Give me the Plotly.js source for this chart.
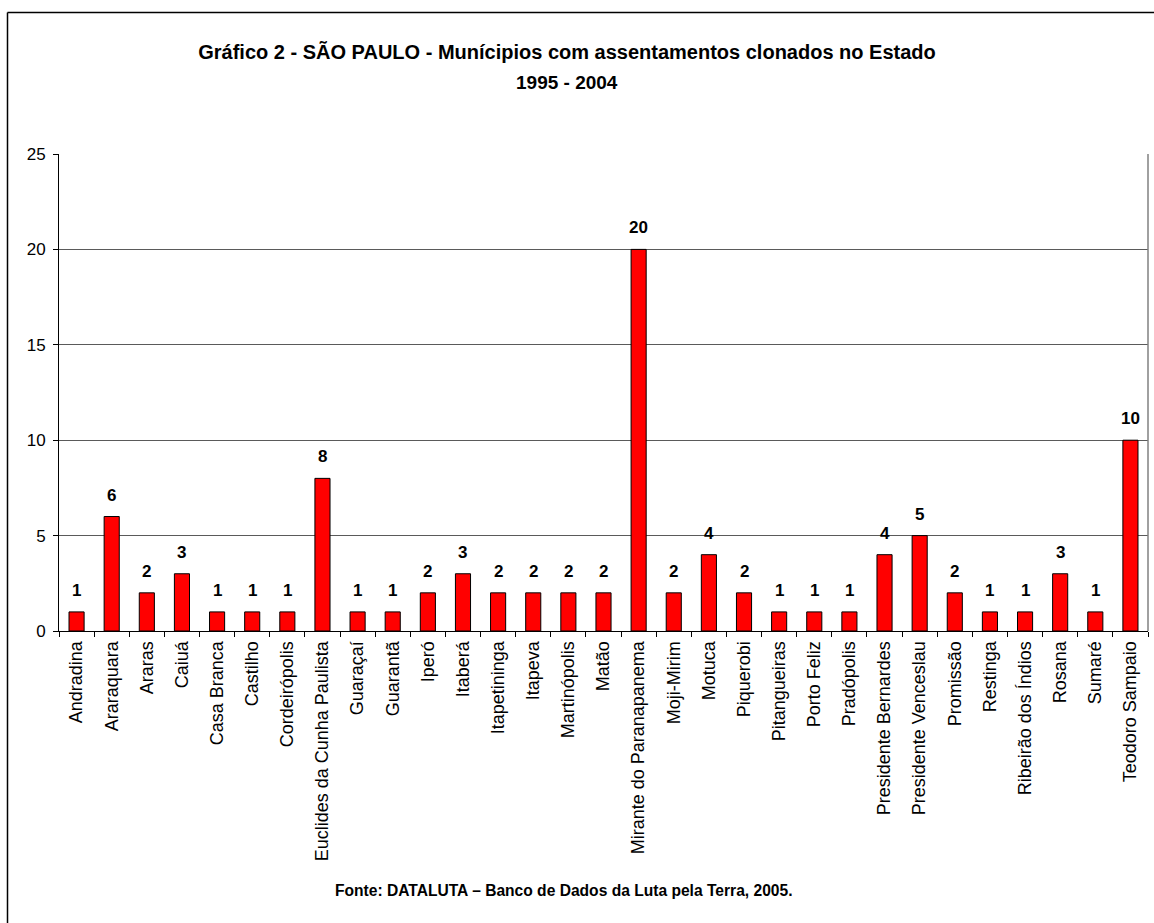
<!DOCTYPE html>
<html>
<head>
<meta charset="utf-8">
<script src="https://cdn.plot.ly/plotly-3.0.1.min.js"></script>
<style>
html,body{margin:0;padding:0;background:#fff;}
#chart{width:1154px;height:923px;}
</style>
</head>
<body>
<div id="chart"></div>
<script>
const municipios = [
  "Andradina","Araraquara","Araras","Caiuá","Casa Branca","Castilho","Cordeirópolis",
  "Euclides da Cunha Paulista","Guaraçaí","Guarantã","Iperó","Itaberá","Itapetininga",
  "Itapeva","Martinópolis","Matão","Mirante do Paranapanema","Moji-Mirim","Motuca",
  "Piquerobi","Pitangueiras","Porto Feliz","Pradópolis","Presidente Bernardes",
  "Presidente Venceslau","Promissão","Restinga","Ribeirão dos Índios","Rosana","Sumaré",
  "Teodoro Sampaio"
];
const assentamentos = [1,6,2,3,1,1,1,8,1,1,2,3,2,2,2,2,20,2,4,2,1,1,1,4,5,2,1,1,3,1,10];
const yTicks = [0,5,10,15,20,25];
const titleLine1 = "Gráfico 2 - SÃO PAULO - Munícipios com assentamentos clonados no Estado";
const titleLine2 = "1995 - 2004";
const fonte = "Fonte: DATALUTA – Banco de Dados da Luta pela Terra, 2005.";

const FONT = "Liberation Sans, Arial, sans-serif";

const trace = {
  type: "bar",
  x: municipios,
  y: assentamentos,
  marker: {color: "#FF0000", line: {color: "#000000", width: 1}},
  hoverinfo: "x+y"
};

const labelAnnotations = municipios.map((m, i) => ({
  x: m, y: assentamentos[i], xref: "x", yref: "y",
  text: "<b>" + assentamentos[i] + "</b>",
  showarrow: false, yanchor: "bottom", yshift: 10,
  font: {family: FONT, size: 17, color: "#000"}
}));

const layout = {
  width: 1154, height: 923,
  margin: {l: 59, r: 6, t: 154, b: 292},
  paper_bgcolor: "#ffffff",
  plot_bgcolor: "#ffffff",
  showlegend: false,
  bargap: 0.57,
  font: {family: FONT, color: "#000"},
  title: {
    text: "<b>" + titleLine1 + "</b>",
    font: {family: FONT, size: 20, color: "#000"},
    xref: "container", x: 567/1154, xanchor: "center",
    yref: "container", y: 1 - 52/923, yanchor: "middle"
  },
  xaxis: {
    type: "category",
    tickangle: -90,
    tickfont: {family: FONT, size: 18, color: "#000"},
    showline: true, linecolor: "#000", linewidth: 1,
    ticks: "outside", tickson: "boundaries", ticklen: 5, tickcolor: "#000",
    ticklabelstandoff: 2,
    showgrid: false, zeroline: false, fixedrange: true
  },
  yaxis: {
    range: [0, 25],
    tickvals: yTicks,
    ticktext: yTicks.map(String),
    tickfont: {family: FONT, size: 17, color: "#000"},
    showline: true, linecolor: "#000", linewidth: 1,
    ticks: "outside", ticklen: 5, tickcolor: "#000",
    ticklabelstandoff: 4,
    showgrid: true, gridcolor: "#5a5a5a", gridwidth: 1,
    zeroline: false, fixedrange: true
  },
  shapes: [
    {type: "line", xref: "paper", yref: "paper", x0: 1, x1: 1, y0: 0, y1: 1,
     line: {color: "#808080", width: 1.5}},
    {type: "line", xref: "paper", yref: "paper", x0: (7.5-59)/1089, x1: 1.2, y0: (631-12.5)/477, y1: (631-12.5)/477,
     line: {color: "#000", width: 1.5}},
    {type: "line", xref: "paper", yref: "paper", x0: (7.5-59)/1089, x1: (7.5-59)/1089, y0: (631-12.5)/477, y1: -1,
     line: {color: "#000", width: 1.5}}
  ],
  annotations: labelAnnotations.concat([
    {xref: "paper", yref: "paper", x: (567-59)/1089, y: (631-82)/477,
     text: "<b>" + titleLine2 + "</b>", showarrow: false, xanchor: "center", yanchor: "middle",
     font: {family: FONT, size: 19, color: "#000"}},
    {xref: "paper", yref: "paper", x: (564-59)/1089, y: (631-890)/477,
     text: "<b>" + fonte + "</b>", showarrow: false, xanchor: "center", yanchor: "middle",
     font: {family: FONT, size: 15.6, color: "#000"}}
  ])
};

Plotly.newPlot("chart", [trace], layout, {displayModeBar: false, staticPlot: true});
</script>
</body>
</html>
